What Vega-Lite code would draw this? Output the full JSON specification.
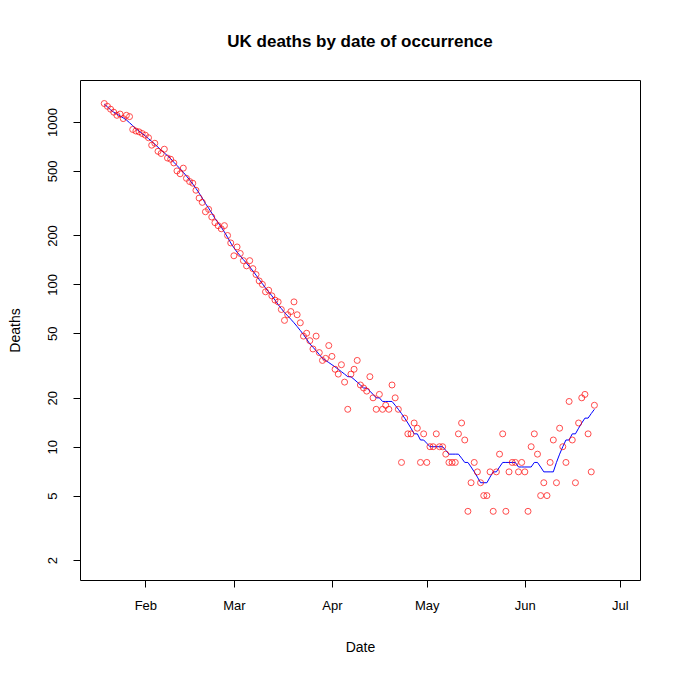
{
  "$schema": "https://vega.github.io/schema/vega-lite/v6.json",
  "autosize": "none",
  "width": 560,
  "height": 500,
  "padding": {"left": 80, "top": 80, "right": 40, "bottom": 99},
  "background": "white",
  "title": {"text": "UK deaths by date of occurrence", "font": "Liberation Sans", "fontSize": 17, "fontWeight": "bold", "offset": 29},
  "data": {
    "values": [
      {"d":"2021-01-19","y":1300,"a":1290},{"d":"2021-01-20","y":1250,"a":1240},{"d":"2021-01-21","y":1200,"a":1190},{"d":"2021-01-22","y":1150,"a":1150},{"d":"2021-01-23","y":1100,"a":1120},{"d":"2021-01-24","y":1120,"a":1090},{"d":"2021-01-25","y":1050,"a":1060},{"d":"2021-01-26","y":1100,"a":1030},{"d":"2021-01-27","y":1080,"a":990},{"d":"2021-01-28","y":900,"a":950},{"d":"2021-01-29","y":880,"a":910},{"d":"2021-01-30","y":870,"a":880},{"d":"2021-01-31","y":850,"a":850},
      {"d":"2021-02-01","y":830,"a":820},{"d":"2021-02-02","y":800,"a":790},{"d":"2021-02-03","y":720,"a":760},{"d":"2021-02-04","y":740,"a":730},{"d":"2021-02-05","y":660,"a":700},{"d":"2021-02-06","y":640,"a":670},{"d":"2021-02-07","y":680,"a":645},{"d":"2021-02-08","y":600,"a":620},{"d":"2021-02-09","y":590,"a":595},{"d":"2021-02-10","y":560,"a":565},{"d":"2021-02-11","y":500,"a":540},{"d":"2021-02-12","y":480,"a":515},{"d":"2021-02-13","y":520,"a":490},{"d":"2021-02-14","y":450,"a":465},{"d":"2021-02-15","y":430,"a":440},{"d":"2021-02-16","y":420,"a":415},{"d":"2021-02-17","y":380,"a":390},{"d":"2021-02-18","y":340,"a":365},{"d":"2021-02-19","y":320,"a":340},{"d":"2021-02-20","y":280,"a":315},{"d":"2021-02-21","y":290,"a":295},{"d":"2021-02-22","y":260,"a":275},{"d":"2021-02-23","y":240,"a":255},{"d":"2021-02-24","y":230,"a":240},{"d":"2021-02-25","y":220,"a":225},{"d":"2021-02-26","y":230,"a":210},{"d":"2021-02-27","y":200,"a":195},{"d":"2021-02-28","y":180,"a":180},
      {"d":"2021-03-01","y":150,"a":168},{"d":"2021-03-02","y":170,"a":158},{"d":"2021-03-03","y":155,"a":150},{"d":"2021-03-04","y":140,"a":142},{"d":"2021-03-05","y":130,"a":135},{"d":"2021-03-06","y":140,"a":128},{"d":"2021-03-07","y":125,"a":121},{"d":"2021-03-08","y":115,"a":114},{"d":"2021-03-09","y":105,"a":107},{"d":"2021-03-10","y":100,"a":101},{"d":"2021-03-11","y":90,"a":95},{"d":"2021-03-12","y":92,"a":90},{"d":"2021-03-13","y":85,"a":85},{"d":"2021-03-14","y":80,"a":80},{"d":"2021-03-15","y":78,"a":75},{"d":"2021-03-16","y":70,"a":71},{"d":"2021-03-17","y":60,"a":67},{"d":"2021-03-18","y":65,"a":64},{"d":"2021-03-19","y":68,"a":61},{"d":"2021-03-20","y":78,"a":58},{"d":"2021-03-21","y":65,"a":55},{"d":"2021-03-22","y":58,"a":52},{"d":"2021-03-23","y":48,"a":49},{"d":"2021-03-24","y":50,"a":46},{"d":"2021-03-25","y":45,"a":43},{"d":"2021-03-26","y":40,"a":41},{"d":"2021-03-27","y":48,"a":39},{"d":"2021-03-28","y":38,"a":37},{"d":"2021-03-29","y":34,"a":35},{"d":"2021-03-30","y":35,"a":34},{"d":"2021-03-31","y":42,"a":33},
      {"d":"2021-04-01","y":36,"a":32},{"d":"2021-04-02","y":30,"a":31},{"d":"2021-04-03","y":28,"a":30},{"d":"2021-04-04","y":32,"a":29},{"d":"2021-04-05","y":25,"a":28},{"d":"2021-04-06","y":17,"a":27},{"d":"2021-04-07","y":28,"a":27},{"d":"2021-04-08","y":30,"a":26},{"d":"2021-04-09","y":34,"a":25},{"d":"2021-04-10","y":24,"a":24},{"d":"2021-04-11","y":23,"a":23},{"d":"2021-04-12","y":22,"a":23},{"d":"2021-04-13","y":27,"a":22},{"d":"2021-04-14","y":20,"a":21},{"d":"2021-04-15","y":17,"a":20},{"d":"2021-04-16","y":21,"a":20},{"d":"2021-04-17","y":17,"a":19},{"d":"2021-04-18","y":18,"a":19},{"d":"2021-04-19","y":17,"a":19},{"d":"2021-04-20","y":24,"a":19},{"d":"2021-04-21","y":20,"a":18},{"d":"2021-04-22","y":17,"a":17},{"d":"2021-04-23","y":8,"a":16},{"d":"2021-04-24","y":15,"a":15},{"d":"2021-04-25","y":12,"a":14},{"d":"2021-04-26","y":12,"a":13},{"d":"2021-04-27","y":14,"a":12},{"d":"2021-04-28","y":13,"a":12},{"d":"2021-04-29","y":8,"a":11},{"d":"2021-04-30","y":12,"a":11},
      {"d":"2021-05-01","y":8,"a":10.5},{"d":"2021-05-02","y":10,"a":10},{"d":"2021-05-03","y":10,"a":10},{"d":"2021-05-04","y":12,"a":10},{"d":"2021-05-05","y":10,"a":10},{"d":"2021-05-06","y":10,"a":10},{"d":"2021-05-07","y":9,"a":9.5},{"d":"2021-05-08","y":8,"a":9},{"d":"2021-05-09","y":8,"a":9},{"d":"2021-05-10","y":8,"a":9},{"d":"2021-05-11","y":12,"a":9},{"d":"2021-05-12","y":14,"a":8.5},{"d":"2021-05-13","y":11,"a":8},{"d":"2021-05-14","y":4,"a":8},{"d":"2021-05-15","y":6,"a":7.5},{"d":"2021-05-16","y":8,"a":7},{"d":"2021-05-17","y":7,"a":6.5},{"d":"2021-05-18","y":6,"a":6},{"d":"2021-05-19","y":5,"a":6},{"d":"2021-05-20","y":5,"a":6},{"d":"2021-05-21","y":7,"a":6.5},{"d":"2021-05-22","y":4,"a":7},{"d":"2021-05-23","y":7,"a":7},{"d":"2021-05-24","y":9,"a":7.5},{"d":"2021-05-25","y":12,"a":8},{"d":"2021-05-26","y":4,"a":8},{"d":"2021-05-27","y":7,"a":8},{"d":"2021-05-28","y":8,"a":8},{"d":"2021-05-29","y":8,"a":8},{"d":"2021-05-30","y":7,"a":7.5},{"d":"2021-05-31","y":8,"a":7.5},
      {"d":"2021-06-01","y":7,"a":7.5},{"d":"2021-06-02","y":4,"a":7.5},{"d":"2021-06-03","y":10,"a":7.5},{"d":"2021-06-04","y":12,"a":8},{"d":"2021-06-05","y":9,"a":8},{"d":"2021-06-06","y":5,"a":7.5},{"d":"2021-06-07","y":6,"a":7},{"d":"2021-06-08","y":5,"a":7},{"d":"2021-06-09","y":8,"a":7},{"d":"2021-06-10","y":11,"a":7},{"d":"2021-06-11","y":6,"a":8},{"d":"2021-06-12","y":13,"a":9},{"d":"2021-06-13","y":10,"a":10},{"d":"2021-06-14","y":8,"a":11},{"d":"2021-06-15","y":19,"a":11},{"d":"2021-06-16","y":11,"a":12},{"d":"2021-06-17","y":6,"a":12},{"d":"2021-06-18","y":14,"a":13},{"d":"2021-06-19","y":20,"a":14},{"d":"2021-06-20","y":21,"a":15},{"d":"2021-06-21","y":12,"a":15},{"d":"2021-06-22","y":7,"a":16},{"d":"2021-06-23","y":18,"a":17}
    ]
  },
  "encoding": {
    "x": {
      "field": "d", "type": "temporal", "title": "Date",
      "scale": {"type": "utc", "domain": [{"year": 2021, "month": 1, "date": 11, "hours": 8, "utc": true}, {"year": 2021, "month": 7, "date": 7, "hours": 10, "utc": true}]},
      "axis": {
        "values": [
          {"year": 2021, "month": 2, "date": 1, "utc": true},
          {"year": 2021, "month": 3, "date": 1, "utc": true},
          {"year": 2021, "month": 4, "date": 1, "utc": true},
          {"year": 2021, "month": 5, "date": 1, "utc": true},
          {"year": 2021, "month": 6, "date": 1, "utc": true},
          {"year": 2021, "month": 7, "date": 1, "utc": true}
        ],
        "format": "%b", "labelPadding": 12, "titlePadding": 28
      }
    },
    "y": {
      "field": "y", "type": "quantitative", "title": "Deaths",
      "scale": {"type": "log", "domain": [1.51, 1815], "nice": false},
      "axis": {"values": [2, 5, 10, 20, 50, 100, 200, 500, 1000], "format": "d", "labelAngle": -90, "labelAlign": "center", "labelBaseline": "bottom", "labelPadding": 14, "titlePadding": 24}
    }
  },
  "layer": [
    {"mark": {"type": "line", "color": "blue", "strokeWidth": 1}, "encoding": {"y": {"field": "a", "type": "quantitative"}}},
    {"mark": {"type": "point", "shape": "circle", "filled": false, "color": "red", "size": 36, "strokeWidth": 1}}
  ],
  "config": {
    "view": {"stroke": "black", "strokeWidth": 1},
    "axis": {"domain": false, "grid": false, "tickColor": "black", "tickSize": 7, "labelColor": "black", "labelFont": "Liberation Sans", "labelFontSize": 13, "titleFont": "Liberation Sans", "titleFontSize": 14, "titleFontWeight": "normal", "titleColor": "black"}
  }
}
